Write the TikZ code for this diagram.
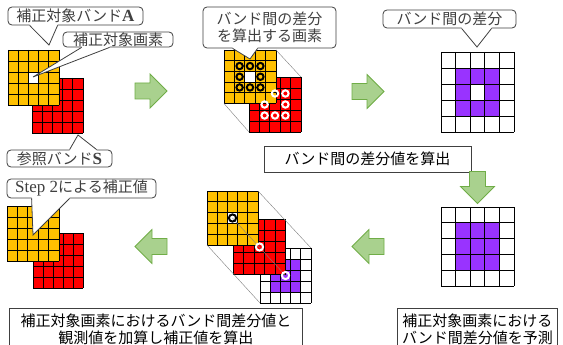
\documentclass[tikz,border=0pt]{standalone}
\usepackage{fontspec}
\setmainfont{Liberation Serif}
\newfontfamily\jpfont{Noto Sans CJK JP}
\usetikzlibrary{calc}

\definecolor{bandorange}{RGB}{255,192,0}
\definecolor{bandred}{RGB}{255,0,0}
\definecolor{diffpurple}{RGB}{153,51,255}
\definecolor{arrowfill}{RGB}{169,209,142}
\definecolor{arrowdraw}{RGB}{112,173,71}
\definecolor{calloutgray}{RGB}{64,64,64}

\tikzset{
  gridline/.style={black, line width=0.9pt},
  callout/.style={draw=calloutgray, line width=0.8pt, rounded corners=4pt, fill=white,
    inner sep=0pt, text=calloutgray, align=center, font=\jpfont\fontsize{15}{16.5}\selectfont},
  textbox/.style={draw=calloutgray, line width=0.8pt, fill=white, inner sep=0pt,
    text=black, align=center, font=\jpfont\fontsize{15}{16.5}\selectfont},
  pointer/.style={draw=calloutgray, line width=0.8pt},
  greenarrow/.style={fill=arrowfill, draw=arrowdraw, line width=0.8pt},
  blackring/.style={draw=black, line width=2pt},
  whitering/.style={draw=white, line width=2pt},
  guide/.style={gray, line width=0.4pt}
}

\newcommand{\lat}[1]{{\rmfamily\fontsize{17}{16.5}\selectfont #1}}

% 5x5 band: x, y, cell width, cell height, colour, extra cells
\newcommand{\bandgrid}[6]{%
  \def\gx{#1}\def\gy{#2}\def\gridcw{#3}\def\gridch{#4}%
  \fill[#5] (\gx,\gy) rectangle ++(5*\gridcw,5*\gridch);
  #6
  \foreach \k in {0,...,5} {
    \draw[gridline] (\gx+\k*\gridcw,\gy) -- ++(0,5*\gridch);
    \draw[gridline] (\gx,\gy+\k*\gridch) -- ++(5*\gridcw,0);
  }%
}

% callout pointer: corner, offsets on the edge, tip, inward shift
\newcommand{\calloutptr}[5]{%
  \fill[white] ($(#1)+(#2,#5)$) -- ($(#1)+(#2,0)$) -- (#4) -- ($(#1)+(#3,0)$) -- ($(#1)+(#3,#5)$) -- cycle;
  \draw[pointer] ($(#1)+(#2,0)$) -- (#4) -- ($(#1)+(#3,0)$);
}

\begin{document}
\begin{tikzpicture}[x=1pt,y=-1pt]
\clip (0,0) rectangle (563,345);
\fill[white] (0,0) rectangle (563,345);

% Band A and reference band S
\bandgrid{32}{78}{10.2}{11}{bandred}{}
\bandgrid{8}{50}{10.2}{11}{bandorange}{\fill[white] (\gx+2*\gridcw,\gy+2*\gridch) rectangle ++(\gridcw,\gridch);}

\node[callout, minimum width=135pt, minimum height=18pt] (calA) at (75.5,16) {補正対象バンド\lat{\bfseries A}};
\coordinate (tipA) at (49,45);
\calloutptr{calA.south west}{22}{50}{tipA}{-1.2}

\node[callout, minimum width=110pt, minimum height=15pt] (calPix) at (118,39.5) {補正対象画素};
\coordinate (tipPix) at (33,77);
\calloutptr{calPix.south west}{19}{47}{tipPix}{-1.2}

\node[callout, minimum width=105pt, minimum height=17pt] (calS) at (59.5,158.5) {参照バンド\lat{\bfseries S}};
\coordinate (tipS) at (78,135);
\calloutptr{calS.north west}{63}{90}{tipS}{1.2}

% Pixels used for the difference
\bandgrid{249}{77}{10.4}{11}{bandred}{}
\bandgrid{224}{50}{10.4}{10.7}{bandorange}{\fill[white] (\gx+2*\gridcw,\gy+2*\gridch) rectangle ++(\gridcw,\gridch);}
\foreach \i/\j in {1/1,2/1,3/1,1/2,3/2,1/3,2/3,3/3}
  \draw[blackring] (224+\i*10.4+5.2,50+\j*10.7+5.35) circle (3.2pt);
\foreach \i/\j in {2/1,3/1,1/2,3/2,1/3,2/3,3/3}
  \draw[whitering] (249+\i*10.4+5.2,77+\j*11+5.5) circle (3.2pt);
\draw[guide] (276,50) -- (301,77);
\draw[guide] (224,103.5) -- (249,132);

\node[callout, minimum width=133pt, minimum height=41pt] (calDiff) at (269.5,27.5) {バンド間の差分\\を算出する画素};
\coordinate (tipDiff) at (250,59);
\calloutptr{calDiff.south west}{30}{55}{tipDiff}{-1.2}

% Difference between bands
\bandgrid{441}{52}{14.6}{16}{white}{\fill[diffpurple] (\gx+\gridcw,\gy+\gridch) rectangle ++(3*\gridcw,3*\gridch);
  \fill[white] (\gx+2*\gridcw,\gy+2*\gridch) rectangle ++(\gridcw,\gridch);}

\node[callout, minimum width=133pt, minimum height=18pt] (calBand) at (449.5,19) {バンド間の差分};
\coordinate (tipBand) at (477,47);
\calloutptr{calBand.south west}{79}{109}{tipBand}{-1.2}

\node[textbox, minimum width=207pt, minimum height=26pt] (calcBox) at (367.5,159) {バンド間の差分値を算出};

% Predicted difference
\bandgrid{441}{207}{14.6}{15.8}{white}{\fill[diffpurple] (\gx+\gridcw,\gy+\gridch) rectangle ++(3*\gridcw,3*\gridch);}

\node[textbox, anchor=north west, minimum width=160pt, minimum height=42pt] (predictBox) at (397,308) {補正対象画素における\\バンド間差分値を予測};

% Adding difference and observation
\bandgrid{260}{248}{10.2}{11}{white}{\fill[diffpurple] (\gx+\gridcw,\gy+\gridch) rectangle ++(3*\gridcw,3*\gridch);}
\bandgrid{233.5}{219.5}{10.4}{11}{bandred}{}
\bandgrid{207}{191}{10.2}{10.8}{bandorange}{\fill[white] (\gx+2*\gridcw,\gy+2*\gridch) rectangle ++(\gridcw,\gridch);}
\draw[guide] (232.5,218) -- (285.5,275.5);
\draw[blackring] (232.5,218) circle (3.6pt);
\draw[whitering] (259.5,247) circle (3.6pt);
\draw[whitering] (285.5,275.5) circle (3.6pt);
\draw[guide] (258,191) -- (311,248);
\draw[guide] (207,245) -- (260,303);

\node[textbox, anchor=north west, minimum width=293pt, minimum height=42pt] (resultBox) at (9,308) {補正対象画素におけるバンド間差分値と\\観測値を加算し補正値を算出};

% Corrected band
\bandgrid{33}{233}{10}{11}{bandred}{}
\bandgrid{7}{206}{10.4}{11}{bandorange}{}

\node[callout, minimum width=149pt, minimum height=19pt] (calStep) at (81.5,188.5) {\lat{Step 2}による補正値};
\coordinate (tipStep) at (33,235);
\calloutptr{calStep.south west}{25}{63}{tipStep}{-1.2}

% Arrows
\foreach \ax/\ay/\ang in {151/91/0, 368/91.5/0, 477.5/187.5/-90, 368/246.5/180, 151/246.5/180}
  \draw[greenarrow, shift={(\ax,\ay)}, rotate=\ang] (-16,-8) -- (-1,-8) -- (-1,-17) -- (16,0) -- (-1,17) -- (-1,8) -- (-16,8) -- cycle;

\end{tikzpicture}
\end{document}
